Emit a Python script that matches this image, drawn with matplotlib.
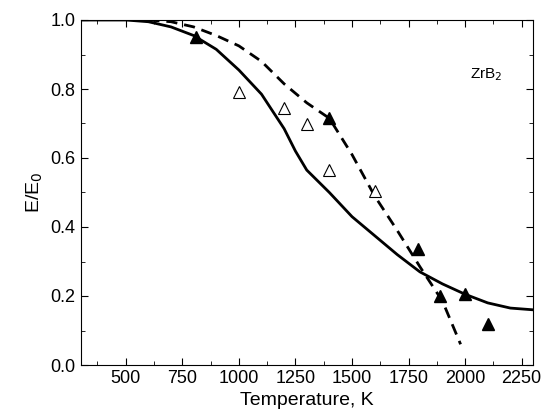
import matplotlib
matplotlib.use("Agg")
import matplotlib.pyplot as plt
from matplotlib.ticker import MultipleLocator

solid_x = [300,500,600,700,800,900,1000,1100,1200,1250,1300,1400,1500,1600,1700,1800,1900,2000,2100,2200,2300]
solid_y = [1.0,1.0,0.995,0.98,0.955,0.915,0.855,0.785,0.685,0.62,0.565,0.50,0.43,0.375,0.32,0.27,0.235,0.205,0.18,0.165,0.16]
dash_x = [600,700,800,900,1000,1100,1200,1300,1400,1500,1600,1700,1800,1900,1980]
dash_y = [1.0,0.995,0.98,0.955,0.925,0.88,0.815,0.76,0.715,0.61,0.49,0.39,0.285,0.185,0.06]
open_x = [1000,1200,1300,1400,1600]
open_y = [0.79,0.745,0.70,0.565,0.505]
fill_x = [810,1400,1790,1890,2000,2100]
fill_y = [0.95,0.715,0.335,0.20,0.205,0.12]

plt.rcParams['font.family'] = ['Liberation Sans', 'DejaVu Sans']
fig = plt.figure(figsize=(5.44,4.16), dpi=100)
ax = fig.add_axes([80.5/544, 1-365/416, (533-80.5)/544, (365-20)/416])
ax.plot(solid_x, solid_y, 'k-', lw=2)
ax.plot(dash_x, dash_y, 'k--', lw=2, dashes=(4,2.5))
ax.plot(open_x, open_y, '^', mfc='white', mec='black', ms=9, mew=0.8)
ax.plot(fill_x, fill_y, '^', color='black', ms=9)
ax.set_xlim(300, 2300)
ax.set_ylim(0, 1.0)
ax.xaxis.set_minor_locator(MultipleLocator(125))
ax.yaxis.set_major_locator(MultipleLocator(0.2))
ax.yaxis.set_minor_locator(MultipleLocator(0.1))
ax.set_xticks([500,750,1000,1250,1500,1750,2000,2250])
ax.tick_params(which='both', direction='in', top=True, right=True, labelsize=13)
ax.tick_params(which='major', length=5)
ax.tick_params(which='minor', length=3)
ax.yaxis.set_major_formatter(matplotlib.ticker.FormatStrFormatter('%.1f'))
ax.set_xlabel('Temperature, K', fontsize=14)
ax.set_ylabel('E/E$_0$', fontsize=14)
ax.text(0.86, 0.83, 'ZrB$_2$', transform=ax.transAxes, fontsize=11)
fig.savefig('out.png', dpi=100)
